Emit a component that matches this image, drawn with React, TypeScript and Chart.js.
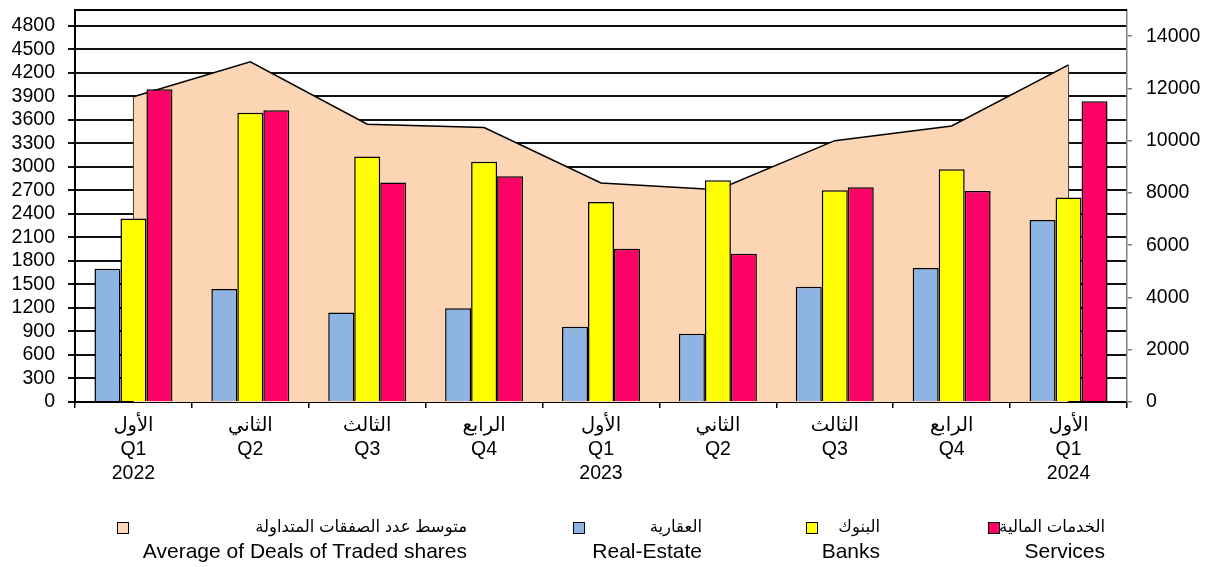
import React, { useEffect, useRef } from 'react';
import { Chart, registerables } from 'chart.js';

Chart.register(...registerables);

const quartersAr = ['الأول', 'الثاني', 'الثالث', 'الرابع', 'الأول', 'الثاني', 'الثالث', 'الرابع', 'الأول'];
const quartersEn = ['Q1', 'Q2', 'Q3', 'Q4', 'Q1', 'Q2', 'Q3', 'Q4', 'Q1'];
const years = ['2022', '', '', '', '2023', '', '', '', '2024'];

const realEstate = [1700, 1440, 1140, 1195, 960, 870, 1470, 1710, 2320];
const banks = [2340, 3690, 3130, 3065, 2550, 2830, 2700, 2970, 2610];
const services = [3990, 3720, 2800, 2880, 1955, 1890, 2740, 2690, 3835];
const avgDeals = [11680, 13020, 10630, 10500, 8380, 8120, 10000, 10560, 12900];

const leftMax = 5000;
const leftTicks = [0, 300, 600, 900, 1200, 1500, 1800, 2100, 2400, 2700, 3000, 3300, 3600, 3900, 4200, 4500, 4800];
const rightMax = 15000;
const rightTicks = [0, 2000, 4000, 6000, 8000, 10000, 12000, 14000];

const legendItems = [
  { ar: 'متوسط عدد الصفقات المتداولة', en: 'Average of Deals of Traded shares', color: '#FCD5B4', boxLeft: 117, textRight: 467 },
  { ar: 'العقارية', en: 'Real-Estate', color: '#8EB4E3', boxLeft: 573, textRight: 702 },
  { ar: 'البنوك', en: 'Banks', color: '#FFFF00', boxLeft: 806, textRight: 880 },
  { ar: 'الخدمات المالية', en: 'Services', color: '#FF0066', boxLeft: 988, textRight: 1105 },
];

const FONT = "'Liberation Sans', Arial, 'DejaVu Sans', sans-serif";

const framePlugin = {
  id: 'frame',
  beforeDatasetsDraw(chart: any) {
    const { ctx, chartArea: a } = chart;
    ctx.save();
    ctx.strokeStyle = '#000';
    ctx.lineWidth = 2;
    ctx.beginPath();
    ctx.moveTo(a.left, a.top);
    ctx.lineTo(a.right, a.top);
    ctx.stroke();
    ctx.restore();
  },
};

const areaEdgePlugin = {
  id: 'areaEdge',
  afterDatasetDraw(chart: any, args: any) {
    if (args.index !== 0) return;
    const meta = chart.getDatasetMeta(0);
    const pts = meta.data;
    if (!pts.length) return;
    const base = chart.scales.y1.getPixelForValue(0);
    const { ctx } = chart;
    ctx.save();
    ctx.strokeStyle = '#404040';
    ctx.lineWidth = 1;
    ctx.beginPath();
    const f = pts[0];
    const l = pts[pts.length - 1];
    ctx.moveTo(f.x, f.y);
    ctx.lineTo(f.x, base);
    ctx.moveTo(l.x, l.y);
    ctx.lineTo(l.x, base);
    ctx.stroke();
    ctx.restore();
  },
};

export default function App() {
  const ref = useRef<HTMLCanvasElement>(null);

  useEffect(() => {
    if (!ref.current) return;
    const labels = quartersAr.map((q, i) => (years[i] ? [q, quartersEn[i], years[i]] : [q, quartersEn[i]]));
    const chart = new Chart(ref.current, {
      type: 'bar',
      data: {
        labels,
        datasets: [
          {
            type: 'line',
            label: 'Average of Deals of Traded shares',
            data: avgDeals,
            yAxisID: 'y1',
            fill: 'origin',
            backgroundColor: '#FCD5B4',
            borderColor: '#000',
            borderWidth: 1.5,
            pointRadius: 0,
            tension: 0,
            order: 5,
          } as any,
          {
            label: 'Real-Estate',
            data: realEstate,
            yAxisID: 'y',
            backgroundColor: '#8EB4E3',
            borderColor: '#000',
            borderWidth: 1.5,
            order: 1,
          },
          {
            label: 'Banks',
            data: banks,
            yAxisID: 'y',
            backgroundColor: '#FFFF00',
            borderColor: '#000',
            borderWidth: 1.5,
            order: 1,
          },
          {
            label: 'Services',
            data: services,
            yAxisID: 'y',
            backgroundColor: '#FF0066',
            borderColor: '#000',
            borderWidth: 1.5,
            order: 1,
          },
        ],
      },
      options: {
        animation: false,
        responsive: false,
        maintainAspectRatio: false,
        layout: { padding: { top: 10, left: 0, right: 0, bottom: 0 } },
        datasets: { bar: { categoryPercentage: 0.667, barPercentage: 1 } },
        plugins: { legend: { display: false }, tooltip: { enabled: false } },
        scales: {
          x: {
            offset: true,
            grid: {
              display: true,
              offset: true,
              drawOnChartArea: false,
              drawTicks: true,
              tickLength: 6,
              color: '#000',
              lineWidth: 1.5,
            },
            border: { display: true, color: '#000', width: 2 },
            ticks: {
              color: '#000',
              padding: 5,
              maxRotation: 0,
              autoSkip: false,
              font: { family: FONT, size: 19.5, lineHeight: 1.25 },
            },
            afterFit(scale: any) {
              scale.height = 165;
              scale.paddingLeft = 0;
              scale.paddingRight = 0;
            },
          },
          y: {
            position: 'left',
            min: 0,
            max: leftMax,
            grid: {
              color: '#111',
              lineWidth: 2,
              drawTicks: true,
              tickLength: 7,
            },
            border: { display: true, color: '#000', width: 2 },
            ticks: {
              autoSkip: false,
              color: '#000',
              padding: 13,
              font: { family: FONT, size: 19.5 },
              callback: (v: any) => String(v),
            },
            afterBuildTicks(scale: any) {
              scale.ticks = leftTicks.map((v) => ({ value: v }));
            },
            afterFit(scale: any) {
              scale.width = 75;
              scale.paddingTop = 0;
              scale.paddingBottom = 0;
            },
          },
          y1: {
            position: 'right',
            min: 0,
            max: rightMax,
            grid: {
              drawOnChartArea: false,
              drawTicks: true,
              tickLength: 5,
              color: '#808080',
              lineWidth: 1.5,
            },
            border: { display: true, color: '#808080', width: 1.5 },
            ticks: {
              autoSkip: false,
              color: '#000',
              padding: 14,
              font: { family: FONT, size: 19.5 },
              callback: (v: any) => String(v),
            },
            afterBuildTicks(scale: any) {
              scale.ticks = rightTicks.map((v) => ({ value: v }));
            },
            afterFit(scale: any) {
              scale.width = 86;
              scale.paddingTop = 0;
              scale.paddingBottom = 0;
            },
          },
        },
      },
      plugins: [framePlugin, areaEdgePlugin],
    } as any);
    return () => chart.destroy();
  }, []);

  return (
    <div style={{ position: 'absolute', left: 0, top: 0, width: 1213, height: 567, background: '#fff', fontFamily: FONT }}>
      <canvas ref={ref} width={1213} height={567} style={{ position: 'absolute', left: 0, top: 0, width: 1213, height: 567 }} />
      {legendItems.map((it) => (
        <React.Fragment key={it.en}>
          <div
            style={{
              position: 'absolute',
              left: it.boxLeft,
              top: 522,
              width: 10,
              height: 10,
              background: it.color,
              border: '1.5px solid #000',
            }}
          />
          <div
            dir="rtl"
            style={{
              position: 'absolute',
              right: 1213 - it.textRight,
              top: 513,
              fontSize: 16.5,
              lineHeight: '26px',
              whiteSpace: 'nowrap',
              color: '#000',
              textAlign: 'right',
            }}
          >
            {it.ar}
          </div>
          <div
            style={{
              position: 'absolute',
              right: 1213 - it.textRight,
              top: 538,
              fontSize: 21,
              lineHeight: '26px',
              whiteSpace: 'nowrap',
              color: '#000',
              textAlign: 'right',
            }}
          >
            {it.en}
          </div>
        </React.Fragment>
      ))}
    </div>
  );
}
